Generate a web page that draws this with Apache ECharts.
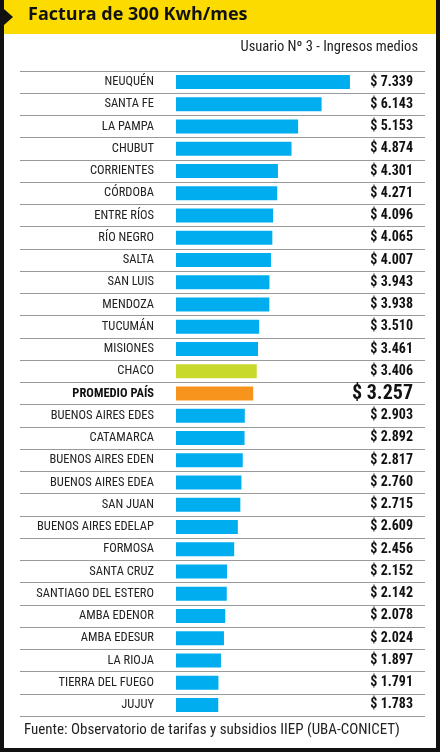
<!DOCTYPE html>
<html><head><meta charset="utf-8">
<script src="https://cdn.jsdelivr.net/npm/echarts@6/dist/echarts.min.js"></script>
<style>html,body{margin:0;padding:0;background:#fff}#c{width:440px;height:752px}</style>
</head><body><div id="c"></div>
<script>
const categories = ["NEUQUÉN","SANTA FE","LA PAMPA","CHUBUT","CORRIENTES","CÓRDOBA","ENTRE RÍOS","RÍO NEGRO","SALTA","SAN LUIS","MENDOZA","TUCUMÁN","MISIONES","CHACO","PROMEDIO PAÍS","BUENOS AIRES EDES","CATAMARCA","BUENOS AIRES EDEN","BUENOS AIRES EDEA","SAN JUAN","BUENOS AIRES EDELAP","FORMOSA","SANTA CRUZ","SANTIAGO DEL ESTERO","AMBA EDENOR","AMBA EDESUR","LA RIOJA","TIERRA DEL FUEGO","JUJUY"];
const values = [7339,6143,5153,4874,4301,4271,4096,4065,4007,3943,3938,3510,3461,3406,3257,2903,2892,2817,2760,2715,2609,2456,2152,2142,2078,2024,1897,1791,1783];
const title = "Factura de 300 Kwh/mes";
const subtitle = "Usuario Nº 3 - Ingresos medios";
const source = "Fuente: Observatorio de tarifas y subsidios IIEP (UBA-CONICET)";

const F = "'Liberation Sans Narrow','Roboto Condensed','Roboto',sans-serif";
const fmt = v => "$ " + v.toLocaleString("de-DE");
const colorOf = c => c === "PROMEDIO PAÍS" ? "#f7941d" : (c === "CHACO" ? "#c8d92b" : "#00aeef");

const chart = echarts.init(document.getElementById('c'));
chart.setOption({
  animation:false,
  graphic:[
    {type:'rect',shape:{x:0,y:0,width:440,height:752},style:{fill:'none',stroke:'#111',lineWidth:8}},
    {type:'rect',shape:{x:4,y:0,width:432,height:34},style:{fill:'#fcdc00'}},
    {type:'polygon',shape:{points:[[4,9],[13,17],[4,25]]},style:{fill:'#111'}},
    {type:'text',left:28,top:6,style:{text:title,font:"bold 18px 'Open Sans',sans-serif",fill:'#111'}},
    {type:'text',right:22,top:40,style:{text:subtitle,font:"14.5px "+F,fill:'#222'}},
    {type:'text',left:24,top:723,style:{text:source,font:"15px "+F,fill:'#222'}}
  ],
  grid:[
    {left:20,right:15,top:71,bottom:36},
    {left:176,right:27,top:71,bottom:36}
  ],
  xAxis:[
    {gridIndex:0,type:'value',show:false,min:0,max:1},
    {gridIndex:1,type:'value',show:false,min:0,max:10000}
  ],
  yAxis:[
    {gridIndex:0,type:'category',data:categories,inverse:true,axisLine:{show:false},axisTick:{show:false},axisLabel:{show:false},
     splitLine:{show:true,lineStyle:{color:'#999',width:1}}},
    {gridIndex:1,type:'category',data:categories,inverse:true,axisLine:{show:false},axisTick:{show:false},
     axisLabel:{margin:22,fontFamily:F,fontSize:12.5,color:'#222',
       formatter:v=> v==="PROMEDIO PAÍS" ? "{b|"+v+"}" : v,
       rich:{b:{fontFamily:F,fontSize:12.5,fontWeight:'bold',color:'#111'}}}},
    {gridIndex:1,type:'category',position:'right',data:values.map(fmt),inverse:true,axisLine:{show:false},axisTick:{show:false},
     axisLabel:{margin:0,align:'right',fontFamily:F,fontSize:14,fontWeight:'bold',color:'#111',
       formatter:(v,i)=> i===14 ? "{p|"+v+"}" : v,
       rich:{p:{fontFamily:F,fontSize:20,fontWeight:'bold',color:'#111'}}}}
  ],
  series:[
    {type:'bar',xAxisIndex:1,yAxisIndex:1,barWidth:14,
     data:values.map((v,i)=>({value:v,itemStyle:{color:colorOf(categories[i])}}))}
  ]
});
</script></body></html>
